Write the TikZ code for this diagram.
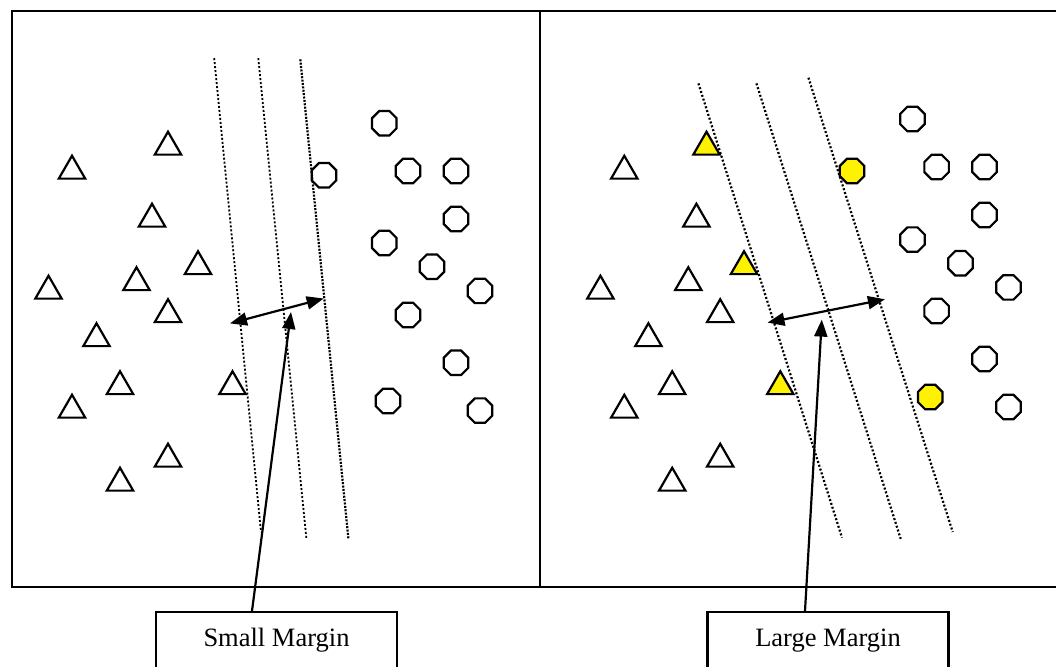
\documentclass[tikz,border=0pt]{standalone}
\usepackage{fontspec}
\setmainfont{Liberation Serif}
\usetikzlibrary{arrows.meta,shapes.geometric}

\begin{document}
\begin{tikzpicture}[x=1pt, y=-1pt,
  tri/.style={draw, line width=2.2pt, regular polygon, regular polygon sides=3,
    minimum size=30.5pt, inner sep=0pt},
  oct/.style={draw, line width=2.2pt, regular polygon, regular polygon sides=8,
    minimum size=26.5pt, inner sep=0pt},
  bound/.style={line width=2.2pt, dash pattern=on 2pt off 2pt},
  gap/.style={line width=2.2pt, {Triangle[length=17pt,width=13pt]}-{Triangle[length=17pt,width=13pt]}},
  ptr/.style={line width=2.2pt, -{Triangle[length=17pt,width=13pt]}},
  mbox/.style={draw, line width=2.2pt, minimum width=241pt, minimum height=57pt,
    inner sep=0pt, font=\fontsize{26.5}{30}\selectfont}]
  \useasboundingbox (0,0) rectangle (1056,666);
  \draw[line width=2.6pt] (1056,11) -- (12,11) -- (12,587) -- (1056,587);
  \draw[line width=2.6pt] (540,11) -- (540,587);

  \foreach \x/\y [count=\i] in {72/171,168/147,152/219,198/266.5,48.5/291,136.5/282.5,
      168/314.5,96.5/338.5,120/386.5,232.5/386.5,72/410,168/459,120/483}
    \node[tri] (lt\i) at (\x,\y) {};
  \foreach \x/\y [count=\i] in {384.3/123.2,324/175.3,408/171,456/171,456/219,384.3/243,
      432/266.7,480/290.9,408/315,456/362.8,388/401,480/410.6}
    \node[oct] (lo\i) at (\x,\y) {};
  \draw[bound, line width=1.8pt] (214.2,58.2) -- (261,532);
  \draw[bound, line width=1.8pt] (258.3,58.2) -- (306.5,539.6);
  \draw[bound, dash pattern=on 2pt off 1.4pt] (300.3,59.3) -- (348.5,539.6);

  \foreach \x/\y/\f [count=\i] in {624.3/171/white,706.5/147/yellow,696.4/219/white,
      744/266.5/yellow,600.4/291/white,688.3/282.5/white,720.2/314.5/white,648.4/338.5/white,
      672.2/386.5/white,780.3/386.5/yellow,624.3/410/white,720.2/459/white,672.2/483/white}
    \node[tri, fill=\f] (rt\i) at (\x,\y) {};
  \foreach \x/\y/\f [count=\i] in {912.4/119/white,852/171/yellow,936.6/167/white,
      984.5/167/white,984.5/215/white,912.4/239.6/white,960.4/263.3/white,1008.4/287.4/white,
      936.6/311/white,984.5/359/white,930.2/397/yellow,1008.4/407/white}
    \node[oct, fill=\f] (ro\i) at (\x,\y) {};
  \draw[bound] (698.4,83.4) -- (842,537.7);
  \draw[bound] (756.4,83.4) -- (900.7,538.9);
  \draw[bound] (808.4,77.7) -- (952.7,532);

  \node[mbox] (sbox) at (276.5,640.5) {Small Margin};
  \node[mbox] (lbox) at (828,640.5) {Large Margin};

  \coordinate (sl) at (230,323.4);
  \coordinate (sr) at (323.7,298.5);
  \coordinate (st) at (291,312);
  \coordinate (ll) at (767.5,322.6);
  \coordinate (lr) at (884.9,299.3);
  \coordinate (lt) at (821.8,319.6);
  \draw[gap] (sl) -- (sr);
  \draw[gap] (ll) -- (lr);
  \draw[ptr] ([xshift=-24.5pt]sbox.north) -- (st);
  \draw[ptr] ([xshift=-23pt]lbox.north) -- (lt);
\end{tikzpicture}
\end{document}
